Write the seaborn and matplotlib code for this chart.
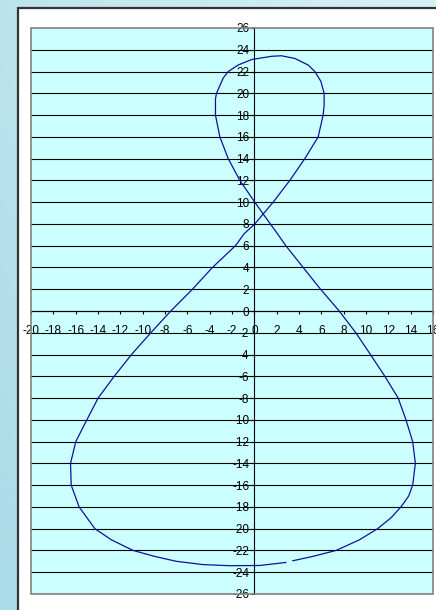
import numpy as np
import matplotlib
matplotlib.use("Agg")
import matplotlib.pyplot as plt
from matplotlib.patches import Rectangle
import seaborn as sns

# Traced path of the figure-eight curve (start near the bottom, run up the
# right side, around the upper loop, down the left side and back along the bottom)
curve_x = [3.43, 5.22, 7.31, 9.40, 11.04, 12.24, 13.13, 13.82, 14.18, 14.42,
           14.18, 13.58, 12.88, 11.69, 10.40, 9.09, 7.60, 5.93, 4.37, 2.82,
           2.07, 0.87, 0.04, -1.30, -2.34, -3.09, -3.48, -3.48, -3.39, -2.79,
           -2.34, -1.45, -0.25, 1.54, 2.43, 3.63, 4.82, 5.42, 5.96, 6.25,
           6.25, 6.16, 5.72, 4.52, 3.18, 1.69, 0.70, 0.04, -0.91, -1.69,
           -3.75, -5.54, -7.48, -9.27, -11.00, -12.55, -13.99, -15.00, -15.99, -16.46,
           -16.40, -15.69, -14.28, -12.79, -10.85, -8.91, -6.97, -4.58, -2.19, 0.49,
           2.84]
curve_y = [-22.95, -22.55, -22.00, -21.03, -20.00, -19.00, -18.00, -17.00, -16.00, -14.00,
           -12.00, -10.00, -8.00, -6.00, -4.00, -2.00, 0.00, 2.00, 4.00, 6.00,
           7.10, 8.80, 10.00, 12.00, 14.00, 16.00, 18.00, 19.50, 20.00, 21.40,
           22.00, 22.60, 23.10, 23.40, 23.45, 23.20, 22.60, 22.00, 21.10, 20.00,
           18.90, 18.00, 16.00, 14.00, 12.00, 10.00, 8.80, 8.00, 7.10, 6.00,
           4.00, 2.00, 0.00, -2.00, -4.00, -6.00, -8.00, -10.00, -12.00, -14.00,
           -16.00, -18.00, -20.00, -21.03, -22.00, -22.55, -23.00, -23.30, -23.40, -23.38,
           -23.10]

x_ticks = list(range(-20, 17, 2))
y_ticks = list(range(-26, 27, 2))

sns.set_style("white")
plt.rcParams['font.family'] = ['Liberation Sans Narrow', 'Liberation Sans', 'DejaVu Sans']
plt.rcParams['axes.unicode_minus'] = False

W, H = 436, 610
fig = plt.figure(figsize=(W / 100, H / 100), dpi=100)

# soft blue gradient backdrop
bg = fig.add_axes([0, 0, 1, 1], zorder=-2)
gx, gy = np.meshgrid(np.linspace(0, 1, 256), np.linspace(0, 1, 256))
t = 0.6 * gx + 0.4 * gy
c0 = np.array([0xa9, 0xdb, 0xe8]) / 255
c1 = np.array([0xd8, 0xf1, 0xf6]) / 255
bg.imshow(c0 + (c1 - c0) * t[..., None], origin='lower', extent=[0, 1, 0, 1], aspect='auto')
bg.axis('off')

# white chart area with dark frame
chart = Rectangle((17.5 / W, -0.05), 1.0, (H - 7.5) / H + 0.05,
                  transform=fig.transFigure, facecolor='white',
                  edgecolor='#333333', lw=1.6, zorder=-1)
fig.add_artist(chart)

ax = fig.add_axes([31 / W, (H - 594) / H, (433 - 31) / W, (594 - 28) / H], zorder=1)
ax.set_facecolor('#ccffff')
ax.set_xlim(-20, 16)
ax.set_ylim(-26, 26)

for yv in y_ticks[1:-1]:
    ax.axhline(yv, color='black', lw=0.8, zorder=1)

sns.lineplot(x=curve_x, y=curve_y, sort=False, estimator=None,
             color='#10109a', lw=0.9, ax=ax, zorder=3)

ax.spines['left'].set_position(('data', 0))
ax.spines['bottom'].set_position(('data', 0))
for s in ('left', 'bottom'):
    ax.spines[s].set_color('black')
    ax.spines[s].set_linewidth(0.8)
    ax.spines[s].set_zorder(2)
ax.spines['top'].set_visible(False)
ax.spines['right'].set_visible(False)
ax.add_patch(Rectangle((0, 0), 1, 1, transform=ax.transAxes, fill=False,
                       edgecolor='#808080', lw=1.2, zorder=4, clip_on=False))

ax.set_xticks(x_ticks)
ax.set_xticklabels([str(v) for v in x_ticks])
ax.set_yticks(y_ticks)
ax.set_yticklabels([str(v) for v in y_ticks])
ax.tick_params(axis='x', direction='out', length=2.2, width=0.8, pad=8.2,
               labelsize=8.5, colors='black', bottom=True)
ax.tick_params(axis='y', direction='out', length=2.2, width=0.8, pad=1.4,
               labelsize=8.5, colors='black', left=True)
ax.set_xlabel('')
ax.set_ylabel('')
ax.grid(False)

fig.savefig('out.png', dpi=100)
